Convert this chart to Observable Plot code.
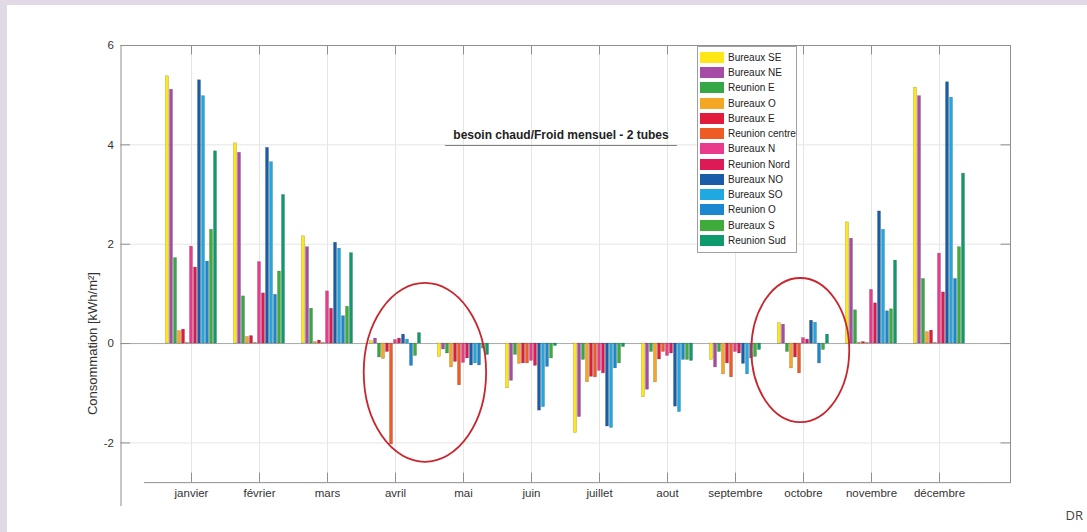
<!DOCTYPE html>
<html><head><meta charset="utf-8">
<script src="https://cdn.jsdelivr.net/npm/d3@7"></script>
<script src="https://cdn.jsdelivr.net/npm/@observablehq/plot@0.6"></script>
<style>
html,body{margin:0;padding:0;background:#e2d9e7;}
#page{position:relative;width:1087px;height:532px;overflow:hidden;background:#e2d9e7;font-family:"Liberation Sans",Arial,sans-serif;}
#card{position:absolute;left:7px;top:5px;width:1080px;height:527px;background:#fff;}
#card svg{position:absolute;left:0;top:0;}
.legend{position:absolute;left:697px;top:46px;width:100px;height:207px;box-sizing:border-box;border:1px solid #a0a0a0;background:#fff;padding-top:2.7px;}
.legend .row{height:15.28px;display:flex;align-items:center;}
.legend .sw{width:24px;height:11px;margin-left:2px;margin-right:4px;flex:none;}
.legend .lb{font-size:10px;color:#222;white-space:nowrap;}
.title{position:absolute;left:445px;top:128px;width:232px;line-height:14px;padding-bottom:3px;border-bottom:1px solid #808080;text-align:center;font-weight:bold;font-size:12px;color:#222;white-space:nowrap;}
.credit{position:absolute;right:4px;top:506px;font-size:13px;color:#444;font-family:"Open Sans","Liberation Sans",sans-serif;}
</style></head><body>
<div id="page"><div id="card"></div></div>
<script>
// ---------- data ----------
const months = ["janvier","février","mars","avril","mai","juin","juillet","aout","septembre","octobre","novembre","décembre"];
const seriesNames = ["Bureaux SE","Bureaux NE","Reunion E","Bureaux O","Bureaux E","Reunion centre","Bureaux N","Reunion Nord","Bureaux NO","Bureaux SO","Reunion O","Bureaux S","Reunion Sud"];
const seriesColors = ["#ffe616","#a64ca6","#35a845","#f5a623","#e01b3c","#ef5b25","#ea3a8c","#de1a56","#1b5ca8","#20a8e0","#1a87d0","#3fab3a","#0f9a6e"];

const bureauxSE     = [5.38, 4.03, 2.16,  0.05, -0.27, -0.90, -1.80, -1.08, -0.33,  0.41, 2.44, 5.15];
const bureauxNE     = [5.11, 3.84, 1.94,  0.10, -0.12, -0.75, -1.48, -0.93, -0.48,  0.38, 2.11, 4.98];
const reunionE      = [1.72, 0.95, 0.70, -0.28, -0.20, -0.23, -0.33, -0.17, -0.17, -0.17, 0.67, 1.30];
const bureauxO      = [0.25, 0.13, 0.03, -0.31, -0.48, -0.41, -0.78, -0.78, -0.62, -0.50, 0.02, 0.23];
const bureauxE      = [0.28, 0.15, 0.06, -0.17, -0.37, -0.40, -0.67, -0.32, -0.40, -0.28, 0.03, 0.26];
const reunionCentre = [0.01, 0.01, 0.01, -2.03, -0.84, -0.40, -0.68, -0.17, -0.68, -0.60, 0.01, 0.01];
const bureauxN      = [1.95, 1.64, 1.05,  0.07, -0.39, -0.35, -0.55, -0.25, -0.17,  0.11, 1.08, 1.81];
const reunionNord   = [1.53, 1.01, 0.70,  0.10, -0.30, -0.45, -0.60, -0.20, -0.20,  0.08, 0.81, 1.03];
const bureauxNO     = [5.30, 3.94, 2.03,  0.18, -0.44, -1.35, -1.67, -1.27, -0.41,  0.46, 2.66, 5.26];
const bureauxSO     = [4.98, 3.65, 1.91,  0.08, -0.40, -1.28, -1.70, -1.38, -0.62,  0.42, 2.29, 4.95];
const reunionO      = [1.65, 0.98, 0.55, -0.45, -0.44, -0.47, -0.50, -0.33, -0.30, -0.40, 0.65, 1.30];
const bureauxS      = [2.29, 1.45, 0.74, -0.25, -0.10, -0.30, -0.40, -0.33, -0.27, -0.13, 0.69, 1.94];
const reunionSud    = [3.87, 2.99, 1.82,  0.21, -0.23, -0.05, -0.07, -0.35, -0.13,  0.18, 1.67, 3.42];

const yTicks = [-2, 0, 2, 4, 6];
const titleText = "besoin chaud/Froid mensuel - 2 tubes";
const yLabelText = "Consommation [kWh/m²]";
const creditText = "DR";
// annotation ellipses (month, shift in month steps, half-width in steps, centre value, half-height in value units)
const annotations = [
  {month: "avril",   shift: 0.44,  halfWidth: 0.90, center: -0.59, halfHeight: 1.80},
  {month: "octobre", shift: -0.04, halfWidth: 0.72, center: -0.14, halfHeight: 1.45}
];

// ---------- build ----------
const seriesValues = [bureauxSE,bureauxNE,reunionE,bureauxO,bureauxE,reunionCentre,bureauxN,reunionNord,bureauxNO,bureauxSO,reunionO,bureauxS,reunionSud];
const table = seriesNames.flatMap((s, i) => months.map((m, j) => ({series: s, month: m, value: seriesValues[i][j]})));

const W = 1080, H = 527;
const M = {marginTop: 40, marginRight: 77, marginBottom: 27, marginLeft: 113.5};
const yDomain = [-3.26, 6];
const xAxisLevel = -2.8;
const frameW = W - M.marginLeft - M.marginRight;
const frameH = H - M.marginTop - M.marginBottom;
const tickLen = 9.5;
const tickV = tickLen * (yDomain[1] - yDomain[0]) / frameH;
const axisColor = "#8f8f8f";
const gridColor = "#e6e6e6";
const fontFamily = "'Liberation Sans', Arial, sans-serif";
const monthBand = {domain: months, paddingInner: 0, paddingOuter: 0.49};

const base = Plot.plot({
  width: W, height: H, ...M,
  x: {type: "band", ...monthBand, axis: null},
  y: {domain: yDomain, axis: null},
  style: {background: "transparent", fontFamily, fontSize: "11.5px", color: "#333"},
  marks: [
    Plot.ruleY(yTicks.filter(d => d !== 0 && d !== 6), {stroke: gridColor}),
    Plot.ruleX(months, {x: d => d, y1: xAxisLevel, y2: yDomain[1], stroke: gridColor}),
    Plot.ruleY([0], {stroke: "#a9a9a9"}),
    Plot.frame({anchor: "top", stroke: axisColor}),
    Plot.frame({anchor: "left", stroke: axisColor}),
    Plot.frame({anchor: "right", stroke: axisColor, insetBottom: (xAxisLevel - yDomain[0]) * frameH / (yDomain[1] - yDomain[0])}),
    Plot.ruleY([xAxisLevel], {stroke: axisColor, insetLeft: 23.5}),
    Plot.ruleX(months, {x: d => d, y1: xAxisLevel, y2: xAxisLevel + tickV, stroke: axisColor}),
    Plot.ruleX(months, {x: d => d, y1: yDomain[1], y2: yDomain[1] - tickV, stroke: axisColor}),
    Plot.ruleY(yTicks, {stroke: axisColor, insetRight: frameW - tickLen}),
    Plot.ruleY(yTicks, {stroke: axisColor, insetLeft: frameW - tickLen}),
    Plot.text(yTicks, {y: d => d, text: d => String(d), frameAnchor: "left", textAnchor: "end", dx: -7, fill: "#333", fontSize: 11.5}),
    Plot.text(months, {x: d => d, text: d => d, frameAnchor: "bottom", dy: -9, fill: "#333", fontSize: 11.5}),
    Plot.text([yLabelText], {y: [0], text: d => d, frameAnchor: "left", textAnchor: "middle", rotate: -90, dx: -28, fill: "#333", fontSize: 13})
  ]
});

const bars = Plot.plot({
  width: W, height: H, ...M,
  fx: {...monthBand, axis: null, label: null},
  x: {domain: seriesNames, paddingInner: 0.2, paddingOuter: 1.815, axis: null},
  y: {domain: yDomain, axis: null},
  color: {domain: seriesNames, range: seriesColors},
  style: {background: "transparent"},
  marks: [
    Plot.barY(table, {fx: "month", x: "series", y: "value", fill: "series", stroke: "#000", strokeOpacity: 0.3, strokeWidth: 0.5})
  ]
});

const card = document.getElementById("card");
card.appendChild(base);
card.appendChild(bars);

// ellipses placed through the base plot's scales
const xs = base.scale("x"), ys = base.scale("y");
const step = xs.step || xs.bandwidth;
d3.select(bars).append("g").selectAll("ellipse").data(annotations).join("ellipse")
  .attr("cx", d => xs.apply(d.month) + xs.bandwidth / 2 + d.shift * step)
  .attr("cy", d => ys.apply(d.center))
  .attr("rx", d => d.halfWidth * step)
  .attr("ry", d => Math.abs(ys.apply(d.center + d.halfHeight) - ys.apply(d.center)))
  .attr("fill", "none").attr("stroke", "#c9252c").attr("stroke-width", 1.8);

// legend, title, credit
const page = d3.select("#page");
const lg = page.append("div").attr("class", "legend");
const rows = lg.selectAll("div").data(seriesNames).join("div").attr("class", "row");
rows.append("div").attr("class", "sw").style("background", (d, i) => seriesColors[i]);
rows.append("div").attr("class", "lb").text(d => d);
page.append("div").attr("class", "title").text(titleText);
page.append("div").attr("class", "credit").text(creditText);
</script>
</body></html>
